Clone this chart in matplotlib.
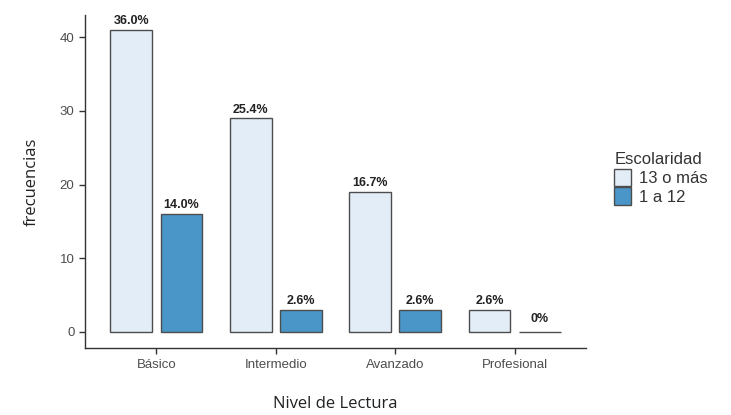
import numpy as np
import matplotlib
matplotlib.use("Agg")
import matplotlib.pyplot as plt
from matplotlib.patches import Patch

niveles = ["Básico", "Intermedio", "Avanzado", "Profesional"]
grupos = ["13 o más", "1 a 12"]
frec_13mas = [41, 29, 19, 3]
frec_1a12 = [16, 3, 3, 0]
etiq_13mas = ["36.0%", "25.4%", "16.7%", "2.6%"]
etiq_1a12 = ["14.0%", "2.6%", "2.6%", "0%"]
y_ticks = [0, 10, 20, 30, 40]

col_claro = "#e3edf8"
col_oscuro = "#4a96c8"
borde = "#4d4d4d"

plt.rcParams['font.family'] = ['Liberation Sans', 'DejaVu Sans']

fig = plt.figure(figsize=(7.31, 4.15), dpi=100)
ax = fig.add_axes([0.116, 0.161, 0.686, 0.803])

x = np.arange(1, len(niveles) + 1)
w = 0.35
off = 0.21
ax.bar(x - off, frec_13mas, w, color=col_claro, edgecolor=borde, linewidth=1.0)
ax.bar(x + off, frec_1a12, w, color=col_oscuro, edgecolor=borde, linewidth=1.0)

# etiquetas de porcentaje sobre cada barra
for xi, v, t in zip(x - off, frec_13mas, etiq_13mas):
    ax.text(xi, v + 0.35, t, ha="center", va="bottom", fontsize=9, fontweight="bold", color="#222222")
for xi, v, t in zip(x + off, frec_1a12, etiq_1a12):
    ax.text(xi, v + (0.9 if v == 0 else 0.35), t, ha="center", va="bottom", fontsize=9,
            fontweight="bold", color="#222222")

ax.set_xlim(0.4, 4.6)
ax.set_ylim(-2.2, 43)
ax.set_xticks(x)
ax.set_xticklabels(niveles)
ax.set_yticks(y_ticks)
ax.tick_params(axis="both", colors="#333333", labelcolor="#4d4d4d", labelsize=9.5, length=4, width=1)
ax.spines["top"].set_visible(False)
ax.spines["right"].set_visible(False)
for s in ["left", "bottom"]:
    ax.spines[s].set_color("#333333")
    ax.spines[s].set_linewidth(1.0)

ax.set_xlabel("Nivel de Lectura", fontsize=12, color="#222222", labelpad=18, family="Open Sans")
ax.set_ylabel("frecuencias", fontsize=12, color="#222222", labelpad=14, family="Open Sans")

handles = [Patch(facecolor=col_claro, edgecolor=borde), Patch(facecolor=col_oscuro, edgecolor=borde)]
leg = fig.legend(handles, grupos, title="Escolaridad", loc="upper left", bbox_to_anchor=(0.82, 0.67),
                 frameon=False, fontsize=12, title_fontsize=12, handlelength=1.0, handleheight=1.2,
                 handletextpad=0.5, labelspacing=0.1, alignment="left")
for t in leg.get_texts():
    t.set_color("#333333")
leg.get_title().set_color("#333333")

fig.savefig("out.png", dpi=100)
